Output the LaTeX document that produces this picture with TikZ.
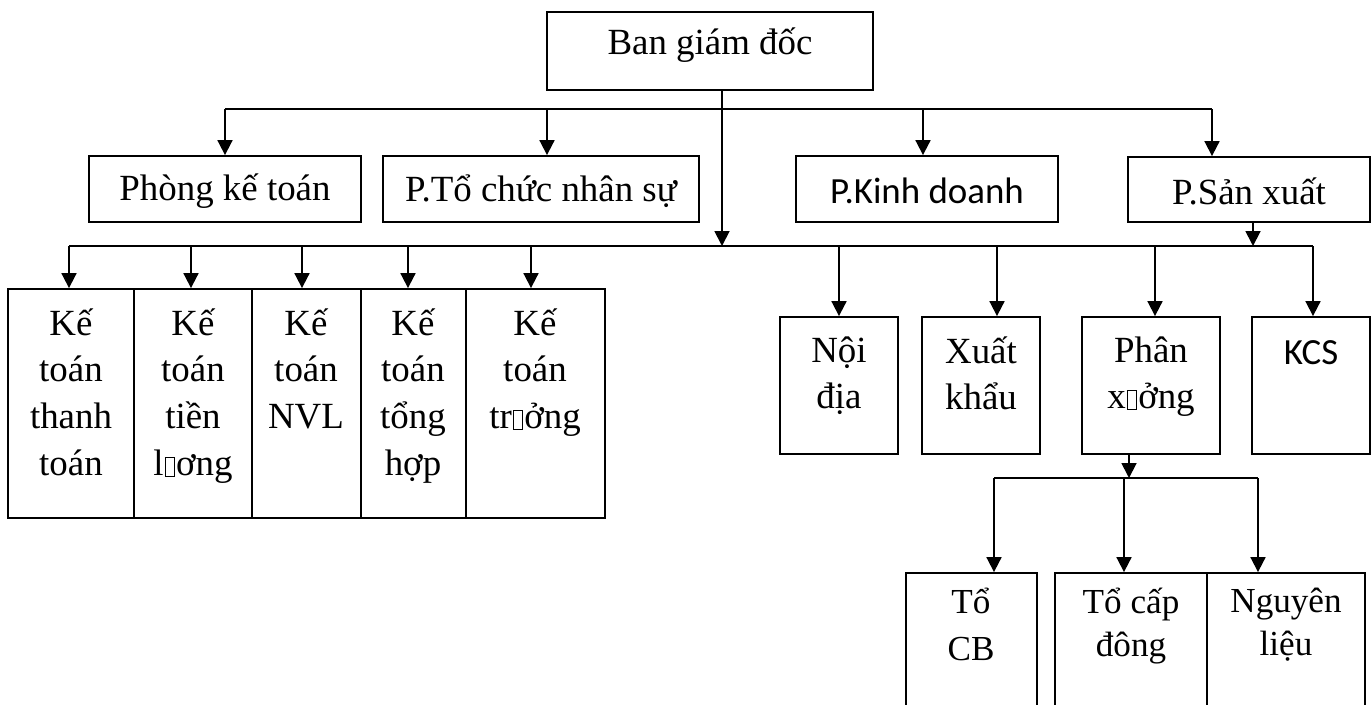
\documentclass[tikz,border=0pt]{standalone}
\usepackage{fontspec}
\setmainfont{Liberation Serif}
\newfontfamily\calibri{Carlito}
\usepackage{tikz}
\usetikzlibrary{arrows.meta, positioning, fit}
\newcommand\nochar{{\setlength\fboxsep{0pt}\setlength\fboxrule{0.6pt}\kern0.03em\fbox{\rule{0pt}{0.48em}\hspace*{0.22em}}\kern0.03em}}
\tikzset{
	box/.style={draw, inner sep=0pt, line width=1.05pt},
	txt/.style={align=center, inner sep=0pt, font=\fontsize{21}{26.7}\selectfont},
	subtxt/.style={align=center, inner sep=0pt, font=\fontsize{20}{24.5}\selectfont},
	sanstxt/.style={align=center, inner sep=0pt, font=\calibri\fontsize{21}{26.7}\selectfont},
	arr/.style={-{Triangle[length=8.5pt, width=8.5pt]}, line width=1.05pt},
	bus/.style={line width=1.05pt}
}
\begin{document}
\begin{tikzpicture}[x=0.02cm, y=-0.02cm]
				\useasboundingbox (0,0) rectangle (1372,704);

				\node[box, fit={(547,12) (873,90)}] (ban) {};
				\node[txt] (bant) at (710,45) {Ban giám đốc};

				\node[box, fit={(89,156) (361,222)}] (pkt) {};
				\node[txt] (pktt) at (225,191) {Phòng kế toán};
				\node[box, fit={(383,156) (699,222)}] (ptc) {};
				\node[txt] (ptct) at (541,191) {P.Tổ chức nhân sự};
				\node[box, fit={(796,156) (1058,222)}] (pkd) {};
				\node[sanstxt] (pkdt) at (927,191) {P.Kinh doanh};
				\node[box, fit={(1128,157) (1370,222)}] (psx) {};
				\node[txt] (psxt) at (1249,191) {P.Sản xuất};

				\coordinate (b1w) at (225,109);
				\coordinate (b1e) at (1212,109);
				\coordinate (a2) at (547,109);
				\coordinate (a3) at (923,109);
				\draw[bus] (b1w) -- (b1e);
				\draw[arr] (b1w) -- (b1w |- pkt.north);
				\draw[arr] (a2) -- (a2 |- ptc.north);
				\draw[arr] (a3) -- (a3 |- pkd.north);
				\draw[arr] (b1e) -- (b1e |- psx.north);

				\coordinate (b2c) at (722,246);
				\coordinate (b2w) at (69,246);
				\coordinate (b2e) at (1313,246);
				\coordinate (p1) at (1253,246);
				\draw[arr] (b2c |- ban.south) -- (b2c);
				\draw[bus] (b2w) -- (b2e);
				\draw[arr] (p1 |- psx.south) -- (p1);

				\node[box, fit={(8,289) (134,518)}] (kt1) {};
				\node[box, fit={(134,289) (252,518)}] (kt2) {};
				\node[box, fit={(252,289) (361,518)}] (kt3) {};
				\node[box, fit={(361,289) (466,518)}] (kt4) {};
				\node[box, fit={(466,289) (605,518)}] (kt5) {};
				\node[txt, anchor=north] (kt1t) at (71,308) {Kế\\toán\\thanh\\toán};
				\node[txt, anchor=north] (kt2t) at (193,308) {Kế\\toán\\tiền\\l\nochar ơng};
				\node[txt, anchor=north] (kt3t) at (306,308) {Kế\\toán\\NVL};
				\node[txt, anchor=north] (kt4t) at (413,308) {Kế\\toán\\tổng\\hợp};
				\node[txt, anchor=north] (kt5t) at (535,308) {Kế\\toán\\tr\nochar ởng};

				\coordinate (c2) at (191,246);
				\coordinate (c3) at (302,246);
				\coordinate (c4) at (408,246);
				\coordinate (c5) at (531,246);
				\draw[arr] (b2w) -- (b2w |- kt1.north);
				\draw[arr] (c2) -- (c2 |- kt2.north);
				\draw[arr] (c3) -- (c3 |- kt3.north);
				\draw[arr] (c4) -- (c4 |- kt4.north);
				\draw[arr] (c5) -- (c5 |- kt5.north);

				\node[box, fit={(780,317) (898,454)}] (nd) {};
				\node[box, fit={(922,317) (1040,454)}] (xk) {};
				\node[box, fit={(1082,317) (1220,454)}] (px) {};
				\node[box, fit={(1252,317) (1370,454)}] (kcs) {};
				\node[txt, anchor=north] (ndt) at (839,336) {Nội\\địa};
				\node[txt, anchor=north] (xkt) at (981,336) {Xuất\\khẩu};
				\node[txt, anchor=north] (pxt) at (1151,336) {Phân\\x\nochar ởng};
				\node[sanstxt] (kcst) at (1311,353) {KCS};

				\coordinate (d1) at (839,246);
				\coordinate (d2) at (997,246);
				\coordinate (d3) at (1155,246);
				\draw[arr] (d1) -- (d1 |- nd.north);
				\draw[arr] (d2) -- (d2 |- xk.north);
				\draw[arr] (d3) -- (d3 |- px.north);
				\draw[arr] (b2e) -- (b2e |- kcs.north);

				\coordinate (q1) at (1129,478);
				\coordinate (b3w) at (994,478);
				\coordinate (b3e) at (1258,478);
				\coordinate (e2) at (1124,478);
				\draw[arr] (q1 |- px.south) -- (q1);
				\draw[bus] (b3w) -- (b3e);

				\node[box, fit={(906,573) (1037,730)}] (tcb) {};
				\node[box, fit={(1055,573) (1207,730)}] (tcd) {};
				\node[box, fit={(1207,573) (1365,730)}] (ngl) {};
				\node[subtxt, anchor=north, font=\fontsize{20}{26.7}\selectfont] (tcbt) at (971,588) {Tổ\\CB};
				\node[subtxt, anchor=north] (tcdt) at (1131,588) {Tổ cấp\\đông};
				\node[subtxt, anchor=north] (nglt) at (1286,588) {Nguyên\\liệu};

				\draw[arr] (b3w) -- (b3w |- tcb.north);
				\draw[arr] (e2) -- (e2 |- tcd.north);
				\draw[arr] (b3e) -- (b3e |- ngl.north);
			\end{tikzpicture}
\end{document}
